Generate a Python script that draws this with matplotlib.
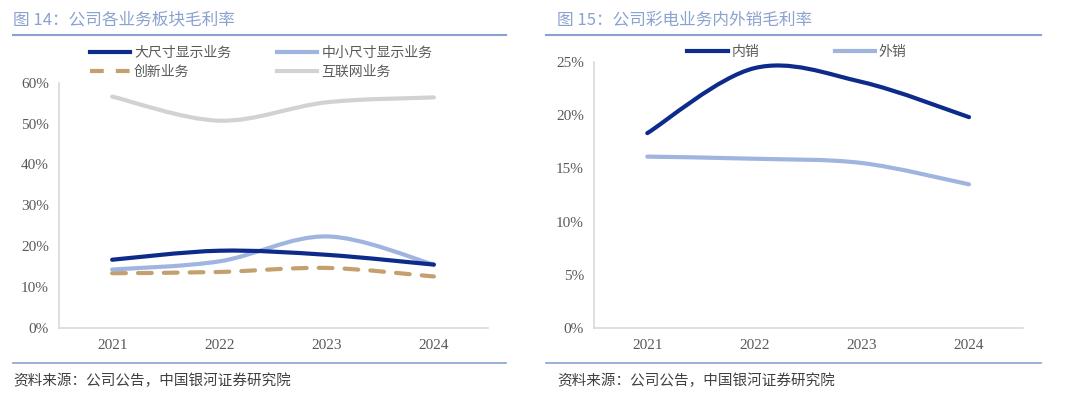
import numpy as np
import matplotlib
matplotlib.use('Agg')
import matplotlib.pyplot as plt
from matplotlib.path import Path
from matplotlib.patches import PathPatch
from matplotlib.lines import Line2D
from matplotlib.ticker import PercentFormatter

plt.rcParams['font.family'] = ['Noto Sans CJK SC', 'DejaVu Sans']

# %% data
years = ['2021', '2022', '2023', '2024']
large_display = [0.167, 0.189, 0.179, 0.155]
small_display = [0.143, 0.163, 0.224, 0.155]
innovation = [0.134, 0.137, 0.147, 0.126]
internet = [0.566, 0.507, 0.552, 0.564]

domestic = [0.183, 0.244, 0.231, 0.198]
overseas = [0.161, 0.159, 0.155, 0.135]

c_navy = '#0D2B8B'
c_light = '#9FB5E0'
c_tan = '#C4A06F'
c_grey = '#D2D2D2'
c_title = '#8AA2CF'
c_tick = '#595959'


# %%
def smooth_path(x, y):
    # excel-style smoothed line, bezier segments through the data points
    x = np.asarray(x, float)
    y = np.asarray(y, float)
    pts = np.column_stack([x, y])
    ext = np.vstack([pts[0], pts, pts[-1]])
    verts = [pts[0]]
    codes = [Path.MOVETO]
    for i in range(len(pts) - 1):
        p0, p1, p2, p3 = ext[i], ext[i+1], ext[i+2], ext[i+3]
        verts += [p1 + (p2 - p0) / 6, p2 - (p3 - p1) / 6, p2]
        codes += [Path.CURVE4] * 3
    return Path(verts, codes)


def draw_series(ax, y, color, lw=3.0, ls='-'):
    x = np.arange(len(y))
    patch = PathPatch(smooth_path(x, y), fill=False, edgecolor=color, lw=lw,
                      linestyle=ls, capstyle='round', joinstyle='round')
    ax.add_patch(patch)


def style_axes(ax, ymax, step):
    ax.set_xlim(-0.5, len(years) - 0.5)
    ax.set_ylim(0, ymax)
    ax.set_xticks(range(len(years)))
    ax.set_xticklabels(years)
    ax.set_yticks(np.arange(0, ymax + 1e-9, step))
    ax.yaxis.set_major_formatter(PercentFormatter(1.0, decimals=0))
    for s in ['top', 'right']:
        ax.spines[s].set_visible(False)
    for s in ['left', 'bottom']:
        ax.spines[s].set_color('#D9D9D9')
        ax.spines[s].set_linewidth(1.2)
    ax.tick_params(axis='both', length=0, colors=c_tick, labelsize=11)
    ax.tick_params(axis='y', pad=7)
    ax.tick_params(axis='x', pad=8)
    for lab in ax.get_xticklabels() + ax.get_yticklabels():
        lab.set_family('Liberation Serif')


fig = plt.figure(figsize=(10.8, 3.93), dpi=100)

# %% left panel
ax1 = fig.add_axes([0.0542, 0.1654, 0.3972, 0.6242])
draw_series(ax1, internet, c_grey)
draw_series(ax1, innovation, c_tan, ls=(0, (3.3, 2.9)))
draw_series(ax1, small_display, c_light)
draw_series(ax1, large_display, c_navy)
style_axes(ax1, 0.6, 0.1)

h1 = [Line2D([], [], color=c_navy, lw=3.0),
      Line2D([], [], color=c_tan, lw=3.0, ls=(0, (3.3, 2.9))),
      Line2D([], [], color=c_light, lw=3.0),
      Line2D([], [], color=c_grey, lw=3.0)]
l1 = ['大尺寸显示业务', '创新业务', '中小尺寸显示业务', '互联网业务']
fig.legend(h1, l1, ncol=2, frameon=False, loc='center',
           bbox_to_anchor=(261 / 1080, 1 - 62 / 393), fontsize=10,
           handlelength=2.9, handletextpad=0.3, columnspacing=3.3,
           labelspacing=0.35, labelcolor=c_tick)

# %% right panel
ax2 = fig.add_axes([0.5497, 0.1646, 0.3972, 0.6784])
draw_series(ax2, overseas, c_light)
draw_series(ax2, domestic, c_navy)
style_axes(ax2, 0.25, 0.05)

h2 = [Line2D([], [], color=c_navy, lw=3.0), Line2D([], [], color=c_light, lw=3.0)]
fig.legend(h2, ['内销', '外销'], ncol=2, frameon=False, loc='center',
           bbox_to_anchor=(797 / 1080, 1 - 52 / 393), fontsize=10,
           handlelength=2.9, handletextpad=0.3, columnspacing=5.4,
           labelcolor=c_tick)

# %% titles, rules and sources
titles = ['图 14：公司各业务板块毛利率', '图 15：公司彩电业务内外销毛利率']
for x0, x1, xt, title in [(13, 506, 13, titles[0]), (546, 1041, 557, titles[1])]:
    fig.text(xt / 1080, 1 - 20 / 393, title, color=c_title, fontsize=12,
             ha='left', va='center')
    fig.add_artist(Line2D([x0 / 1080, x1 / 1080], [1 - 35 / 393] * 2,
                          color=c_title, lw=1.5))
    fig.add_artist(Line2D([x0 / 1080, x1 / 1080], [1 - 363 / 393] * 2,
                          color=c_title, lw=1.2))
    fig.text(xt / 1080, 1 - 381 / 393, '资料来源：公司公告，中国银河证券研究院',
             color='#404040', fontsize=10.5, ha='left', va='center')

fig.savefig('out.png', dpi=100)
